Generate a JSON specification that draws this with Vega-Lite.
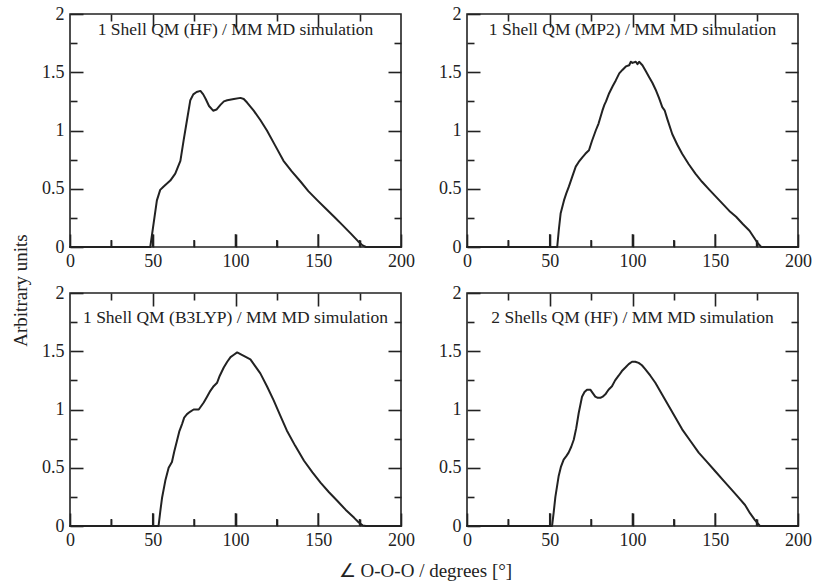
{
  "$schema": "https://vega.github.io/schema/vega-lite/v6.json",
  "background": "white",
  "padding": {"left": 10, "top": 4, "right": 5, "bottom": 5},
  "config": {
    "view": {"stroke": "#222", "strokeWidth": 1.6},
    "axis": {
      "labelFont": "Liberation Serif", "labelFontSize": 18, "labelColor": "#222",
      "tickColor": "#222", "tickWidth": 1.6, "domain": false, "grid": false,
      "labelFlush": false, "labelOverlap": false,
      "titleFont": "Liberation Serif", "titleFontSize": 19, "titleFontWeight": "normal", "titleColor": "#222"
    },
    "title": {"font": "Liberation Serif", "fontSize": 17.5, "fontWeight": "normal", "color": "#222", "anchor": "middle", "frame": "group", "baseline": "middle"},
    "line": {"color": "#222", "strokeWidth": 2, "strokeJoin": "round", "strokeCap": "round"},
    "rule": {"color": "#222", "strokeWidth": 1.6}
  },
  "datasets": {
    "majorx": [{"pos": 50}, {"pos": 100}, {"pos": 150}],
    "minorx": [{"pos": 25}, {"pos": 75}, {"pos": 125}, {"pos": 175}],
    "hf": [
      {"angle": 0, "value": 0}, {"angle": 48.5, "value": 0}, {"angle": 50.5, "value": 0.2}, {"angle": 52.5, "value": 0.4}, {"angle": 54.5, "value": 0.49}, {"angle": 56.6, "value": 0.52}, {"angle": 60.6, "value": 0.57}, {"angle": 63.6, "value": 0.63}, {"angle": 66.7, "value": 0.74}, {"angle": 68.7, "value": 0.92}, {"angle": 70.7, "value": 1.09}, {"angle": 72.7, "value": 1.26}, {"angle": 74.5, "value": 1.31}, {"angle": 76.5, "value": 1.33}, {"angle": 78.8, "value": 1.34}, {"angle": 80.5, "value": 1.31}, {"angle": 82, "value": 1.27}, {"angle": 84, "value": 1.21}, {"angle": 86.5, "value": 1.17}, {"angle": 88.5, "value": 1.18}, {"angle": 90.9, "value": 1.22}, {"angle": 93, "value": 1.25}, {"angle": 95, "value": 1.26}, {"angle": 99, "value": 1.27}, {"angle": 103, "value": 1.28}, {"angle": 105, "value": 1.27}, {"angle": 107, "value": 1.24}, {"angle": 111, "value": 1.17}, {"angle": 115, "value": 1.09}, {"angle": 119, "value": 1.0}, {"angle": 124, "value": 0.87}, {"angle": 129, "value": 0.74}, {"angle": 134, "value": 0.65}, {"angle": 139.4, "value": 0.56}, {"angle": 144, "value": 0.48}, {"angle": 149.5, "value": 0.4}, {"angle": 154.5, "value": 0.33}, {"angle": 159.6, "value": 0.26}, {"angle": 164.5, "value": 0.19}, {"angle": 169.7, "value": 0.115}, {"angle": 174, "value": 0.05}, {"angle": 176.8, "value": 0.014}, {"angle": 178.8, "value": 0}, {"angle": 200, "value": 0}
    ],
    "mp2": [
      {"angle": 0, "value": 0}, {"angle": 54.5, "value": 0}, {"angle": 55.5, "value": 0.15}, {"angle": 56.6, "value": 0.29}, {"angle": 58.6, "value": 0.4}, {"angle": 60, "value": 0.46}, {"angle": 61.6, "value": 0.52}, {"angle": 63.5, "value": 0.6}, {"angle": 65.7, "value": 0.69}, {"angle": 67.5, "value": 0.73}, {"angle": 69.7, "value": 0.77}, {"angle": 71.5, "value": 0.8}, {"angle": 73.7, "value": 0.83}, {"angle": 75.5, "value": 0.91}, {"angle": 77.8, "value": 1.0}, {"angle": 79.5, "value": 1.06}, {"angle": 81.8, "value": 1.17}, {"angle": 83, "value": 1.22}, {"angle": 84, "value": 1.25}, {"angle": 85.9, "value": 1.32}, {"angle": 88, "value": 1.38}, {"angle": 89.9, "value": 1.43}, {"angle": 92, "value": 1.49}, {"angle": 93.9, "value": 1.52}, {"angle": 96, "value": 1.55}, {"angle": 98, "value": 1.56}, {"angle": 99, "value": 1.59}, {"angle": 100, "value": 1.58}, {"angle": 102, "value": 1.59}, {"angle": 103, "value": 1.57}, {"angle": 104, "value": 1.59}, {"angle": 106, "value": 1.56}, {"angle": 108, "value": 1.51}, {"angle": 110, "value": 1.46}, {"angle": 112, "value": 1.41}, {"angle": 114, "value": 1.35}, {"angle": 116, "value": 1.28}, {"angle": 118, "value": 1.2}, {"angle": 119.5, "value": 1.17}, {"angle": 121, "value": 1.1}, {"angle": 124, "value": 0.97}, {"angle": 127, "value": 0.88}, {"angle": 130, "value": 0.8}, {"angle": 134, "value": 0.71}, {"angle": 138, "value": 0.63}, {"angle": 142, "value": 0.56}, {"angle": 146.5, "value": 0.49}, {"angle": 150.5, "value": 0.43}, {"angle": 154.5, "value": 0.37}, {"angle": 158.5, "value": 0.31}, {"angle": 162.6, "value": 0.26}, {"angle": 166.5, "value": 0.2}, {"angle": 170.7, "value": 0.14}, {"angle": 173.5, "value": 0.08}, {"angle": 175.8, "value": 0.03}, {"angle": 177.8, "value": 0}, {"angle": 200, "value": 0}
    ],
    "b3lyp": [
      {"angle": 0, "value": 0}, {"angle": 53.5, "value": 0}, {"angle": 54.5, "value": 0.12}, {"angle": 55.6, "value": 0.24}, {"angle": 57.6, "value": 0.39}, {"angle": 59.6, "value": 0.5}, {"angle": 61.6, "value": 0.55}, {"angle": 63, "value": 0.64}, {"angle": 64.6, "value": 0.73}, {"angle": 66, "value": 0.81}, {"angle": 67.7, "value": 0.875}, {"angle": 69, "value": 0.93}, {"angle": 70.7, "value": 0.96}, {"angle": 72.5, "value": 0.98}, {"angle": 74.7, "value": 1.0}, {"angle": 77.8, "value": 1.0}, {"angle": 80.8, "value": 1.06}, {"angle": 82.8, "value": 1.11}, {"angle": 84.8, "value": 1.16}, {"angle": 86.8, "value": 1.2}, {"angle": 88.9, "value": 1.23}, {"angle": 90.5, "value": 1.29}, {"angle": 92.9, "value": 1.36}, {"angle": 95, "value": 1.41}, {"angle": 97, "value": 1.45}, {"angle": 99, "value": 1.47}, {"angle": 101, "value": 1.49}, {"angle": 103, "value": 1.475}, {"angle": 105, "value": 1.46}, {"angle": 107, "value": 1.445}, {"angle": 109, "value": 1.43}, {"angle": 112, "value": 1.37}, {"angle": 115, "value": 1.31}, {"angle": 119, "value": 1.2}, {"angle": 123, "value": 1.08}, {"angle": 127, "value": 0.95}, {"angle": 131, "value": 0.82}, {"angle": 136, "value": 0.69}, {"angle": 141.4, "value": 0.56}, {"angle": 146.5, "value": 0.46}, {"angle": 151.5, "value": 0.37}, {"angle": 156.5, "value": 0.29}, {"angle": 161.6, "value": 0.215}, {"angle": 166.5, "value": 0.14}, {"angle": 171.7, "value": 0.07}, {"angle": 174.5, "value": 0.03}, {"angle": 176.8, "value": 0.005}, {"angle": 178.8, "value": 0}, {"angle": 200, "value": 0}
    ],
    "hf2": [
      {"angle": 0, "value": 0}, {"angle": 51.4, "value": 0}, {"angle": 52.4, "value": 0.12}, {"angle": 53.4, "value": 0.25}, {"angle": 55.4, "value": 0.43}, {"angle": 56.8, "value": 0.51}, {"angle": 58.4, "value": 0.57}, {"angle": 60, "value": 0.6}, {"angle": 61.4, "value": 0.63}, {"angle": 63, "value": 0.68}, {"angle": 64.5, "value": 0.74}, {"angle": 66, "value": 0.84}, {"angle": 67.5, "value": 0.97}, {"angle": 69.5, "value": 1.11}, {"angle": 71, "value": 1.15}, {"angle": 72.5, "value": 1.17}, {"angle": 74.5, "value": 1.17}, {"angle": 76, "value": 1.14}, {"angle": 77.5, "value": 1.11}, {"angle": 79, "value": 1.1}, {"angle": 80.6, "value": 1.1}, {"angle": 82, "value": 1.11}, {"angle": 83.6, "value": 1.13}, {"angle": 85.5, "value": 1.17}, {"angle": 87.6, "value": 1.2}, {"angle": 89.5, "value": 1.25}, {"angle": 91.6, "value": 1.29}, {"angle": 93.6, "value": 1.33}, {"angle": 95.7, "value": 1.36}, {"angle": 97.7, "value": 1.39}, {"angle": 99.7, "value": 1.41}, {"angle": 101.7, "value": 1.41}, {"angle": 103.7, "value": 1.4}, {"angle": 105.7, "value": 1.38}, {"angle": 107.8, "value": 1.345}, {"angle": 110.8, "value": 1.29}, {"angle": 113.8, "value": 1.23}, {"angle": 117.8, "value": 1.13}, {"angle": 121.9, "value": 1.03}, {"angle": 126, "value": 0.93}, {"angle": 130, "value": 0.83}, {"angle": 135, "value": 0.73}, {"angle": 140, "value": 0.63}, {"angle": 145, "value": 0.55}, {"angle": 150, "value": 0.47}, {"angle": 155, "value": 0.39}, {"angle": 160, "value": 0.31}, {"angle": 164, "value": 0.245}, {"angle": 168, "value": 0.18}, {"angle": 171, "value": 0.11}, {"angle": 174, "value": 0.05}, {"angle": 177, "value": 0}, {"angle": 200, "value": 0}
    ]
  },
  "bounds": "flush",
  "columns": 2,
  "spacing": {"row": 46, "column": 66},
  "concat": [
    {
      "width": 331, "height": 233,
      "title": {"text": "1 Shell QM (HF) / MM MD simulation", "offset": -33},
      "resolve": {"axis": {"x": "independent", "y": "independent"}},
      "layer": [
        {"data": {"name": "hf"}, "mark": "line", "encoding": {
          "x": {"field": "angle", "type": "quantitative", "scale": {"domain": [0, 200]}, "axis": {"orient": "bottom", "values": [0, 50, 100, 150, 200], "offset": -13, "tickSize": 13, "labelPadding": 5, "title": null}},
          "y": {"field": "value", "type": "quantitative", "scale": {"domain": [0, 2]}, "axis": {"orient": "left", "values": [0, 0.5, 1, 1.5, 2], "format": "~g", "offset": -13, "tickSize": 13, "labelPadding": 6, "title": "Arbitrary units", "titleX": -63, "titleY": 276, "titleAngle": -90, "titleAlign": "center", "titleBaseline": "middle"}}}},
        {"data": {"name": "hf"}, "mark": {"type": "line", "opacity": 0}, "encoding": {
          "x": {"field": "angle", "type": "quantitative", "axis": {"orient": "top", "values": [50, 100, 150], "offset": -13, "tickSize": 13, "labels": false, "title": null}},
          "y": {"field": "value", "type": "quantitative", "axis": {"orient": "right", "values": [0.5, 1, 1.5], "offset": -13, "tickSize": 13, "labels": false, "title": null}}}},
        {"data": {"name": "hf"}, "mark": {"type": "line", "opacity": 0}, "encoding": {
          "x": {"field": "angle", "type": "quantitative", "axis": {"orient": "bottom", "values": [25, 75, 125, 175], "offset": -7, "tickSize": 7, "labels": false, "title": null}},
          "y": {"field": "value", "type": "quantitative", "axis": {"orient": "left", "values": [0.25, 0.75, 1.25, 1.75], "offset": -7, "tickSize": 7, "labels": false, "title": null}}}},
        {"data": {"name": "hf"}, "mark": {"type": "line", "opacity": 0}, "encoding": {
          "x": {"field": "angle", "type": "quantitative", "axis": {"orient": "top", "values": [25, 75, 125, 175], "offset": -7, "tickSize": 7, "labels": false, "title": null}},
          "y": {"field": "value", "type": "quantitative", "axis": {"orient": "right", "values": [0.25, 0.75, 1.25, 1.75], "offset": -7, "tickSize": 7, "labels": false, "title": null}}}},
        {"data": {"name": "majorx"}, "mark": {"type": "rule"}, "encoding": {
          "x": {"field": "pos", "type": "quantitative", "axis": null}, "y": {"datum": 0, "type": "quantitative", "axis": null}, "y2": {"datum": 0.11}}},
        {"data": {"name": "minorx"}, "mark": {"type": "rule"}, "encoding": {
          "x": {"field": "pos", "type": "quantitative", "axis": null}, "y": {"datum": 0, "type": "quantitative", "axis": null}, "y2": {"datum": 0.06}}}
      ]
    },
    {
      "width": 331, "height": 233,
      "title": {"text": "1 Shell QM (MP2) / MM MD simulation", "offset": -33},
      "resolve": {"axis": {"x": "independent", "y": "independent"}},
      "layer": [
        {"data": {"name": "mp2"}, "mark": "line", "encoding": {
          "x": {"field": "angle", "type": "quantitative", "scale": {"domain": [0, 200]}, "axis": {"orient": "bottom", "values": [0, 50, 100, 150, 200], "offset": -13, "tickSize": 13, "labelPadding": 5, "title": null}},
          "y": {"field": "value", "type": "quantitative", "scale": {"domain": [0, 2]}, "axis": {"orient": "left", "values": [0, 0.5, 1, 1.5, 2], "format": "~g", "offset": -13, "tickSize": 13, "labelPadding": 6, "title": null}}}},
        {"data": {"name": "mp2"}, "mark": {"type": "line", "opacity": 0}, "encoding": {
          "x": {"field": "angle", "type": "quantitative", "axis": {"orient": "top", "values": [50, 100, 150], "offset": -13, "tickSize": 13, "labels": false, "title": null}},
          "y": {"field": "value", "type": "quantitative", "axis": {"orient": "right", "values": [0.5, 1, 1.5], "offset": -13, "tickSize": 13, "labels": false, "title": null}}}},
        {"data": {"name": "mp2"}, "mark": {"type": "line", "opacity": 0}, "encoding": {
          "x": {"field": "angle", "type": "quantitative", "axis": {"orient": "bottom", "values": [25, 75, 125, 175], "offset": -7, "tickSize": 7, "labels": false, "title": null}},
          "y": {"field": "value", "type": "quantitative", "axis": {"orient": "left", "values": [0.25, 0.75, 1.25, 1.75], "offset": -7, "tickSize": 7, "labels": false, "title": null}}}},
        {"data": {"name": "mp2"}, "mark": {"type": "line", "opacity": 0}, "encoding": {
          "x": {"field": "angle", "type": "quantitative", "axis": {"orient": "top", "values": [25, 75, 125, 175], "offset": -7, "tickSize": 7, "labels": false, "title": null}},
          "y": {"field": "value", "type": "quantitative", "axis": {"orient": "right", "values": [0.25, 0.75, 1.25, 1.75], "offset": -7, "tickSize": 7, "labels": false, "title": null}}}},
        {"data": {"name": "majorx"}, "mark": {"type": "rule"}, "encoding": {
          "x": {"field": "pos", "type": "quantitative", "axis": null}, "y": {"datum": 0, "type": "quantitative", "axis": null}, "y2": {"datum": 0.11}}},
        {"data": {"name": "minorx"}, "mark": {"type": "rule"}, "encoding": {
          "x": {"field": "pos", "type": "quantitative", "axis": null}, "y": {"datum": 0, "type": "quantitative", "axis": null}, "y2": {"datum": 0.06}}}
      ]
    },
    {
      "width": 331, "height": 233,
      "title": {"text": "1 Shell QM (B3LYP) / MM MD simulation", "offset": -42},
      "resolve": {"axis": {"x": "independent", "y": "independent"}},
      "layer": [
        {"data": {"name": "b3lyp"}, "mark": "line", "encoding": {
          "x": {"field": "angle", "type": "quantitative", "scale": {"domain": [0, 200]}, "axis": {"orient": "bottom", "values": [0, 50, 100, 150, 200], "offset": -13, "tickSize": 13, "labelPadding": 5, "title": "∠ O-O-O / degrees [°]", "titleX": 355, "titleY": 57, "titleAlign": "center", "titleBaseline": "middle"}},
          "y": {"field": "value", "type": "quantitative", "scale": {"domain": [0, 2]}, "axis": {"orient": "left", "values": [0, 0.5, 1, 1.5, 2], "format": "~g", "offset": -13, "tickSize": 13, "labelPadding": 6, "title": null}}}},
        {"data": {"name": "b3lyp"}, "mark": {"type": "line", "opacity": 0}, "encoding": {
          "x": {"field": "angle", "type": "quantitative", "axis": {"orient": "top", "values": [50, 100, 150], "offset": -13, "tickSize": 13, "labels": false, "title": null}},
          "y": {"field": "value", "type": "quantitative", "axis": {"orient": "right", "values": [0.5, 1, 1.5], "offset": -13, "tickSize": 13, "labels": false, "title": null}}}},
        {"data": {"name": "b3lyp"}, "mark": {"type": "line", "opacity": 0}, "encoding": {
          "x": {"field": "angle", "type": "quantitative", "axis": {"orient": "bottom", "values": [25, 75, 125, 175], "offset": -7, "tickSize": 7, "labels": false, "title": null}},
          "y": {"field": "value", "type": "quantitative", "axis": {"orient": "left", "values": [0.25, 0.75, 1.25, 1.75], "offset": -7, "tickSize": 7, "labels": false, "title": null}}}},
        {"data": {"name": "b3lyp"}, "mark": {"type": "line", "opacity": 0}, "encoding": {
          "x": {"field": "angle", "type": "quantitative", "axis": {"orient": "top", "values": [25, 75, 125, 175], "offset": -7, "tickSize": 7, "labels": false, "title": null}},
          "y": {"field": "value", "type": "quantitative", "axis": {"orient": "right", "values": [0.25, 0.75, 1.25, 1.75], "offset": -7, "tickSize": 7, "labels": false, "title": null}}}},
        {"data": {"name": "majorx"}, "mark": {"type": "rule"}, "encoding": {
          "x": {"field": "pos", "type": "quantitative", "axis": null}, "y": {"datum": 0, "type": "quantitative", "axis": null}, "y2": {"datum": 0.11}}},
        {"data": {"name": "minorx"}, "mark": {"type": "rule"}, "encoding": {
          "x": {"field": "pos", "type": "quantitative", "axis": null}, "y": {"datum": 0, "type": "quantitative", "axis": null}, "y2": {"datum": 0.06}}}
      ]
    },
    {
      "width": 331, "height": 233,
      "title": {"text": "2 Shells QM (HF) / MM MD simulation", "offset": -42},
      "resolve": {"axis": {"x": "independent", "y": "independent"}},
      "layer": [
        {"data": {"name": "hf2"}, "mark": "line", "encoding": {
          "x": {"field": "angle", "type": "quantitative", "scale": {"domain": [0, 200]}, "axis": {"orient": "bottom", "values": [0, 50, 100, 150, 200], "offset": -13, "tickSize": 13, "labelPadding": 5, "title": null}},
          "y": {"field": "value", "type": "quantitative", "scale": {"domain": [0, 2]}, "axis": {"orient": "left", "values": [0, 0.5, 1, 1.5, 2], "format": "~g", "offset": -13, "tickSize": 13, "labelPadding": 6, "title": null}}}},
        {"data": {"name": "hf2"}, "mark": {"type": "line", "opacity": 0}, "encoding": {
          "x": {"field": "angle", "type": "quantitative", "axis": {"orient": "top", "values": [50, 100, 150], "offset": -13, "tickSize": 13, "labels": false, "title": null}},
          "y": {"field": "value", "type": "quantitative", "axis": {"orient": "right", "values": [0.5, 1, 1.5], "offset": -13, "tickSize": 13, "labels": false, "title": null}}}},
        {"data": {"name": "hf2"}, "mark": {"type": "line", "opacity": 0}, "encoding": {
          "x": {"field": "angle", "type": "quantitative", "axis": {"orient": "bottom", "values": [25, 75, 125, 175], "offset": -7, "tickSize": 7, "labels": false, "title": null}},
          "y": {"field": "value", "type": "quantitative", "axis": {"orient": "left", "values": [0.25, 0.75, 1.25, 1.75], "offset": -7, "tickSize": 7, "labels": false, "title": null}}}},
        {"data": {"name": "hf2"}, "mark": {"type": "line", "opacity": 0}, "encoding": {
          "x": {"field": "angle", "type": "quantitative", "axis": {"orient": "top", "values": [25, 75, 125, 175], "offset": -7, "tickSize": 7, "labels": false, "title": null}},
          "y": {"field": "value", "type": "quantitative", "axis": {"orient": "right", "values": [0.25, 0.75, 1.25, 1.75], "offset": -7, "tickSize": 7, "labels": false, "title": null}}}},
        {"data": {"name": "majorx"}, "mark": {"type": "rule"}, "encoding": {
          "x": {"field": "pos", "type": "quantitative", "axis": null}, "y": {"datum": 0, "type": "quantitative", "axis": null}, "y2": {"datum": 0.11}}},
        {"data": {"name": "minorx"}, "mark": {"type": "rule"}, "encoding": {
          "x": {"field": "pos", "type": "quantitative", "axis": null}, "y": {"datum": 0, "type": "quantitative", "axis": null}, "y2": {"datum": 0.06}}}
      ]
    }
  ]
}
